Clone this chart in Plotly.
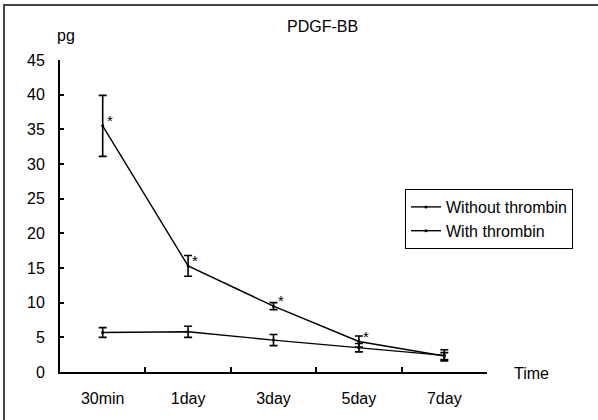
import plotly.graph_objects as go

categories = ["30min", "1day", "3day", "5day", "7day"]
without_vals = [5.7, 5.8, 4.6, 3.5, 2.4]
without_err = [0.7, 0.8, 0.8, 0.6, 0.8]
with_vals = [35.5, 15.3, 9.5, 4.4, 2.3]
with_err = [4.4, 1.5, 0.5, 0.8, 0.5]
star_vals = [36.2, 15.9, 10.1, 5.0]

FONT = "Liberation Sans, Arial, sans-serif"
W, H = 598, 420
ML, MR, MT, MB = 60, 111, 60, 48
pw, ph = W - ML - MR, H - MT - MB


def px(xp):
    return (xp - ML) / pw


def py(yp):
    return (H - MB - yp) / ph


fig = go.Figure()
fig.add_trace(go.Scatter(
    x=categories, y=without_vals, name="Without thrombin", mode="lines+markers",
    line=dict(color="black", width=1.4), marker=dict(color="black", size=3),
    error_y=dict(type="data", array=without_err, color="black", thickness=1.6, width=4)))
fig.add_trace(go.Scatter(
    x=categories, y=with_vals, name="With thrombin", mode="lines+markers",
    line=dict(color="black", width=1.4), marker=dict(color="black", size=3),
    error_y=dict(type="data", array=with_err, color="black", thickness=1.6, width=4)))

for i, v in enumerate(star_vals):
    fig.add_annotation(x=i, y=v, text="*", showarrow=False, xshift=7, yshift=1,
                       font=dict(family=FONT, size=15, color="black"))

fig.add_annotation(xref="paper", yref="paper", x=px(66), y=py(35), xanchor="center", yanchor="middle",
                   text="pg", showarrow=False, font=dict(family=FONT, size=16, color="black"))
fig.add_annotation(xref="paper", yref="paper", x=px(531), y=py(373), xanchor="center", yanchor="middle",
                   text="Time", showarrow=False, font=dict(family=FONT, size=16, color="black"))
fig.add_annotation(xref="paper", yref="paper", x=px(322), y=py(27), xanchor="center", yanchor="middle",
                   text="PDGF-BB", showarrow=False, font=dict(family=FONT, size=16, color="black"))

# outer frame lines (left and top)
fig.add_shape(type="rect", xref="paper", yref="paper", layer="above",
              x0=px(3), x1=px(5), y0=py(420), y1=py(4),
              line=dict(width=0), fillcolor="#444")
fig.add_shape(type="rect", xref="paper", yref="paper", layer="above",
              x0=px(3), x1=px(598), y0=py(6), y1=py(4),
              line=dict(width=0), fillcolor="#444")

fig.update_layout(
    width=W, height=H, margin=dict(l=ML, r=MR, t=MT, b=MB),
    paper_bgcolor="white", plot_bgcolor="white",
    font=dict(family=FONT, size=16, color="black"),
    showlegend=True,
    legend=dict(x=px(405), y=py(189), xanchor="left", yanchor="top",
                bordercolor="black", borderwidth=1, bgcolor="white",
                font=dict(family=FONT, size=16, color="black"),
                itemwidth=30, tracegroupgap=0),
)
fig.update_xaxes(type="category", range=[-0.5, 4.5], tickson="boundaries",
                 showline=True, linecolor="black", linewidth=2,
                 ticks="inside", ticklen=5, tickcolor="black", tickwidth=1.5,
                 showgrid=False, zeroline=False, ticklabelstandoff=11)
fig.update_yaxes(range=[0, 45], tickvals=[0, 5, 10, 15, 20, 25, 30, 35, 40, 45],
                 showline=True, linecolor="black", linewidth=2,
                 ticks="inside", ticklen=4, tickcolor="black", tickwidth=1.5,
                 showgrid=False, zeroline=False, ticklabelstandoff=10)

fig.write_html("out.html", config={"displayModeBar": False},
               post_script="document.body.style.margin='0';")
